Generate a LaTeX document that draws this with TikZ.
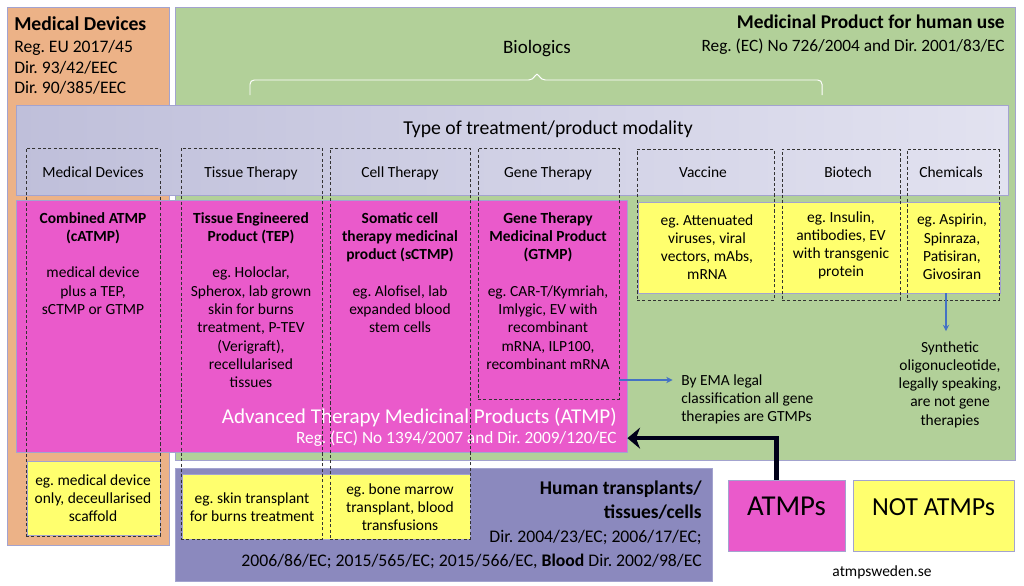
\documentclass[tikz,border=0pt]{standalone}
\usepackage{fontspec}
\setmainfont{Carlito}
\frenchspacing
\usetikzlibrary{arrows.meta,fit}
\definecolor{mdorange}{HTML}{ECB287}
\definecolor{mpgreen}{HTML}{B2D099}
\definecolor{lavleft}{HTML}{BFBFDA}
\definecolor{lavright}{HTML}{E2E2F0}
\definecolor{atmppink}{HTML}{EA5ACB}
\definecolor{noyellow}{HTML}{FFFF6E}
\definecolor{htpurple}{HTML}{8B89BE}
\definecolor{edgeblue}{HTML}{A3A3CF}
\definecolor{noteblue}{HTML}{4472C4}
\tikzset{
  region/.style={draw=edgeblue, line width=0.6pt, inner sep=0pt},
  colbox/.style={draw=black!80, dash pattern=on 2.2pt off 1.6pt, line width=0.7pt, inner sep=0pt},
  body/.style={font=\fontsize{11}{13}\selectfont, align=center, inner sep=0pt},
  head/.style={font=\fontsize{11}{13}\selectfont, anchor=base, inner sep=0pt},
  note/.style={-{Stealth[length=4.5pt,width=4.5pt]}, draw=noteblue, line width=0.8pt},
  toatmp/.style={-{Stealth[length=9pt,width=15pt]}, draw=black!90!blue, line width=3.2pt}
}

\begin{document}
\begin{tikzpicture}[x=0.025cm, y=-0.025cm]
  \useasboundingbox[fill=white] (0,0) rectangle (1024,585);

  % regulatory regions
  \node[region, fill=mdorange, fit={(7,7) (169,545)}] (mdregion) {};
  \node[region, fill=mpgreen, fit={(175,7) (1015,460)}] (mpregion) {};
  \node[font=\bfseries\fontsize{14}{16}\selectfont, anchor=base west, inner sep=0pt] (mdtitle) at (14,30) {Medical Devices};
  \node[font=\fontsize{12.5}{14.6}\selectfont, align=left, anchor=north west, inner sep=0pt] (mdregs) at (14,40) {Reg. EU 2017/45\\Dir. 93/42/EEC\\Dir. 90/385/EEC};
  \node[font=\bfseries\fontsize{13.8}{16}\selectfont, anchor=base east, inner sep=0pt] (mptitle) at (1005,28) {Medicinal Product for human use};
  \node[font=\fontsize{12.3}{14}\selectfont, anchor=base east, inner sep=0pt] (mpreg) at (1005,51) {Reg. (EC) No 726/2004 and Dir. 2001/83/EC};

  % biologics brace
  \node[font=\fontsize{13.5}{16}\selectfont, anchor=base, inner sep=0pt] (biologics) at (537,53) {Biologics};
  \draw[white, line width=0.7pt, rounded corners=3pt] (250,95) -- (250,80) -- (533,80) -- (537,72) -- (541,80) -- (822,80) -- (822,95);

  % modality band
  \node[region, left color=lavleft, right color=lavright, fit={(16,105) (1008,195)}] (band) {};
  \node[font=\fontsize{14}{16}\selectfont, anchor=base, inner sep=0pt] (bandtitle) at (548,134) {Type of treatment/product modality};

  % product areas
  \node[region, fill=atmppink, fit={(16,200) (627,452)}] (atmpbox) {};
  \node[region, fill=noyellow, fit={(638,202) (1000,293)}] (bioyellow) {};
  \node[region, fill=htpurple, fit={(175,468) (712,581)}] (htbox) {};
  \node[region, fill=noyellow, fit={(27,461) (160,535)}] (mdyellow) {};
  \node[region, fill=noyellow, fit={(182,474) (470,539)}] (htyellow) {};

  % column headers
  \foreach \x/\name/\txt in {93/md/{Medical Devices}, 251/tt/{Tissue Therapy}, 400/ct/{Cell Therapy}, 548/gt/{Gene Therapy}, 703/vc/{Vaccine}, 848/bt/{Biotech}, 951/ch/{Chemicals}}
    \node[head] (head\name) at (\x,177) {\txt};

  % column contents
  \node[body, anchor=north] (catmp) at (93,212) {\textbf{Combined ATMP}\\\textbf{(cATMP)}\\[13pt]medical device\\plus a TEP,\\sCTMP or GTMP};
  \node[body, anchor=north] (tep) at (251,212) {\textbf{Tissue Engineered}\\\textbf{Product (TEP)}\\[13pt]eg. Holoclar,\\Spherox, lab grown\\skin for burns\\treatment, P-TEV\\(Verigraft),\\recellularised\\tissues};
  \node[body, anchor=north] (sctmp) at (400,212) {\textbf{Somatic cell}\\\textbf{therapy medicinal}\\\textbf{product (sCTMP)}\\[13pt]eg. Alofisel, lab\\expanded blood\\stem cells};
  \node[body, anchor=north] (gtmp) at (548,212) {\textbf{Gene Therapy}\\\textbf{Medicinal Product}\\\textbf{(GTMP)}\\[13pt]eg. CAR-T/Kymriah,\\Imlygic, EV with\\recombinant\\mRNA, ILP100,\\recombinant mRNA};
  \node[body, anchor=north] (vaccine) at (707,214) {eg. Attenuated\\viruses, viral\\vectors, mAbs,\\mRNA};
  \node[body, anchor=north] (biotech) at (841,211) {eg. Insulin,\\antibodies, EV\\with transgenic\\protein};
  \node[body, anchor=north] (chemical) at (952,214) {eg. Aspirin,\\Spinraza,\\Patisiran,\\Givosiran};

  % ATMP label
  \node[white, font=\fontsize{15}{17}\selectfont, anchor=base east, inner sep=0pt] (atmptitle) at (617,423) {Advanced Therapy Medicinal Products (ATMP)};
  \node[white, font=\fontsize{12.3}{14}\selectfont, anchor=base east, inner sep=0pt] (atmpreg) at (617,443) {Reg. (EC) No 1394/2007 and Dir. 2009/120/EC};

  % bottom contents
  \node[body, anchor=north] (mdonly) at (93,474) {eg. medical device\\only, deceullarised\\scaffold};
  \node[body, anchor=north] (skin) at (252,492) {eg. skin transplant\\for burns treatment};
  \node[body, anchor=north] (marrow) at (400,483) {eg. bone marrow\\transplant, blood\\transfusions};
  \node[font=\fontsize{12.6}{17}\selectfont, align=right, anchor=north east, inner sep=0pt] (httext) at (702,481) {\textbf{\fontsize{13.8}{17}\selectfont Human transplants/}\\\textbf{\fontsize{13.8}{17}\selectfont tissues/cells}\\Dir. 2004/23/EC; 2006/17/EC;\\2006/86/EC; 2015/565/EC; 2015/566/EC, \textbf{Blood} Dir. 2002/98/EC};

  % dashed modality columns
  \foreach \l/\r/\b/\name in {26/160/536/md, 181/322/539/tt, 330/470/539/ct, 478/619/399/gt}
    \node[colbox, fit={(\l,148) (\r,\b)}] (col\name) {};
  \foreach \l/\r/\name in {637/774/vc, 782/900/bt, 907/999/ch}
    \node[colbox, fit={(\l,149) (\r,300)}] (col\name) {};

  % notes
  \coordinate (gtout) at (619,380);
  \node[body, align=left, anchor=north west] (ema) at (681,374) {By EMA legal\\classification all gene\\therapies are GTMPs};
  \draw[note, shorten >=6pt] (gtout) -- (gtout -| ema.west);
  \coordinate (chout) at (946,293);
  \node[body, anchor=north] (synth) at (950,341) {Synthetic\\oligonucleotide,\\legally speaking,\\are not gene\\therapies};
  \draw[note, shorten >=7pt] (chout) -- (chout |- synth.north);

  % legend
  \node[region, fill=atmppink, font=\fontsize{20.5}{24}\selectfont, fit={(728,480) (845,551)}] (atmps) {ATMPs};
  \node[region, fill=noyellow, font=\fontsize{18.5}{22}\selectfont, fit={(853,480) (1014,551)}] (notatmps) {NOT ATMPs};
  \node[font=\fontsize{11}{13}\selectfont, anchor=base, inner sep=0pt] (site) at (882,576) {atmpsweden.se};
  \draw[toatmp] ([xshift=-7pt]atmps.north) |- (atmpbox.east |- atmpreg.center);
\end{tikzpicture}
\end{document}
